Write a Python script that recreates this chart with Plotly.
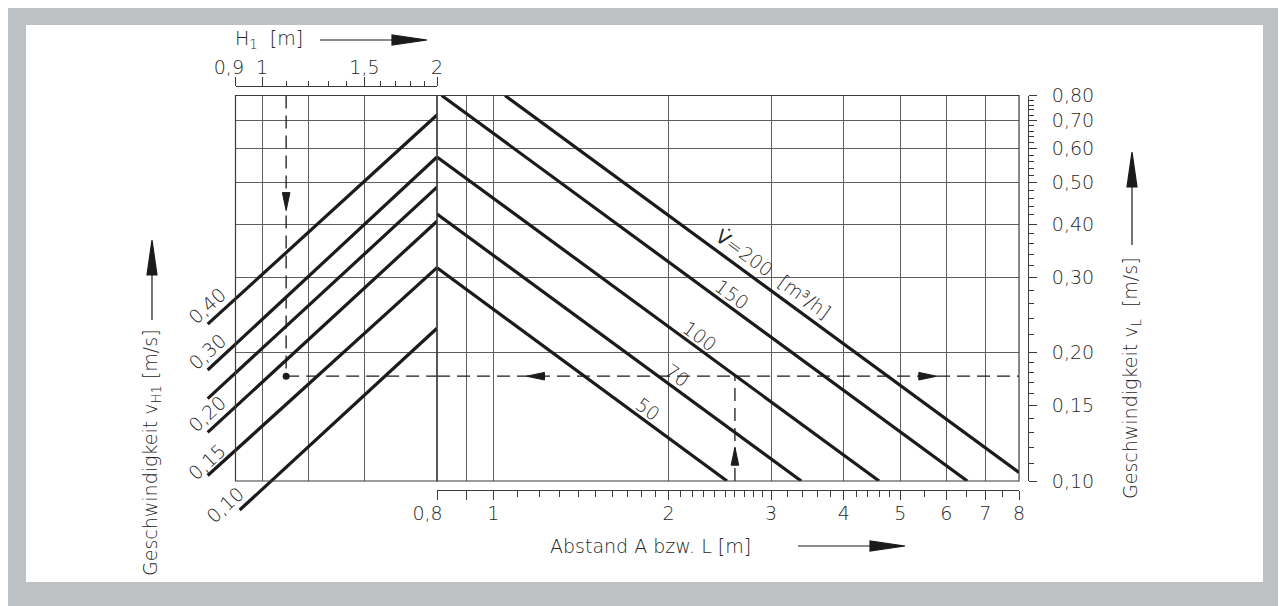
import math
import plotly.graph_objects as go

# ------------------------------------------------------------------ data
# top scale: height H1 [m]
h1_tick_values = [0.9, 1.0, 1.5, 2.0]
h1_tick_labels = ["0,9\u2002\u2009", "1", "1,5", "2"]
h1_minor_ticks = [1.1, 1.2, 1.3, 1.4, 1.6, 1.7, 1.8, 1.9]
h1_grid_values = [1.0, 1.2, 1.5]

# bottom scale: distance A / L [m]
a_tick_values = [0.8, 0.9, 1, 2, 3, 4, 5, 6, 7, 8]
a_tick_labels = ["0,8\u2003", " ", "1", "2", "3", "4", "5", "6", "7", "8"]
a_minor_ticks = [1.1, 1.2, 1.3, 1.4, 1.5, 1.6, 1.7, 1.8, 1.9,
                 2.1, 2.2, 2.3, 2.4, 2.5, 2.6, 2.7, 2.8, 2.9,
                 3.2, 3.4, 3.6, 3.8, 4.2, 4.4, 4.6, 4.8, 5.5, 6.5, 7.5]
a_grid_values = [0.9, 1, 2, 3, 4, 5, 6, 7]

# right scale: velocity v_L [m/s]
v_tick_values = [0.10, 0.15, 0.20, 0.30, 0.40, 0.50, 0.60, 0.70, 0.80]
v_tick_labels = ["0,10", "0,15", "0,20", "0,30", "0,40", "0,50", "0,60", "0,70", "0,80"]
v_minor_ticks = [0.11, 0.12, 0.13, 0.14, 0.16, 0.17, 0.18, 0.19,
                 0.22, 0.24, 0.26, 0.28, 0.32, 0.34, 0.36, 0.38,
                 0.42, 0.44, 0.46, 0.48, 0.52, 0.54, 0.56, 0.58,
                 0.62, 0.64, 0.66, 0.68, 0.72, 0.74, 0.76, 0.78]
v_grid_values = [0.2, 0.3, 0.4, 0.5, 0.6, 0.7]

# rising lines: velocity v_H1 family (over H1)
vh1_labels = ["0,40", "0,30", "", "0,20", "0,15", "0,10"]
vh1_h1_from = [0.806, 0.806, 0.806, 0.806, 0.806, 0.915]
vh1_h1_to = [2.0, 2.0, 2.0, 2.0, 2.0, 2.0]
vh1_v_from = [0.233, 0.182, 0.156, 0.130, 0.103, 0.0855]
vh1_v_to = [0.720, 0.574, 0.488, 0.406, 0.316, 0.228]

# falling lines: volume flow family (over A)
flow_labels = ["<span style=\"font-weight:400\">V\u0307</span>=200\u00a0\u00a0[m\u00b3/h]",
               "150", "100", "70", "50"]
flow_a_from = [1.047, 0.815, 0.80, 0.80, 0.80]
flow_a_to = [8.0, 6.52, 4.60, 3.38, 2.52]
flow_v_from = [0.80, 0.80, 0.574, 0.422, 0.316]
flow_v_to = [0.1047, 0.10, 0.10, 0.10, 0.10]

# worked example (dashed path)
example_h1 = 1.1
example_v = 0.176
example_a = 2.6

# ------------------------------------------------------------------ placement / style
W, H = 1286, 606
OFF = 8  # page offset of the figure inside the window
FONT = "DejaVu Sans"
FS = 19
FW = 200
TXT = "#262626"
LINE = "#1b1b1b"
GRID = "#5e5e5e"
AX = "#3a3a3a"

FRAME_L, MID, FRAME_R = 235.5, 437.0, 1019.0
FRAME_T, FRAME_B = 95.5, 481.0
TOP_AXIS_Y, BOT_AXIS_Y, RIGHT_AXIS_X = 86.0, 490.0, 1028.0
EXT_L, EXT_B = 180.0, 540.0

# label anchor points (in axis units)
vh1_label_h1 = [0.803, 0.803, None, 0.803, 0.803, 0.863]
vh1_label_v = [0.257, 0.201, None, 0.1435, 0.1107, 0.0878]
flow_label_a = [3.03, 2.567, 2.264, 2.065, 1.843]
flow_label_v = [0.3055, 0.2743, 0.2192, 0.1771, 0.1476]


def fx(p):
    return (p - OFF) / W


def fy(p):
    return 1 - (p - OFF) / H


lg = math.log10
h1_range = [lg(0.9), lg(2.0)]
a_range = [lg(0.8), lg(8.0)]
v_range = [lg(0.1), lg(0.8)]
dec_x = (MID - FRAME_L) / (h1_range[1] - h1_range[0])
dec_y = (FRAME_B - FRAME_T) / (v_range[1] - v_range[0])
h1_ext_range = [h1_range[0] - (FRAME_L - EXT_L) / dec_x, h1_range[1]]
v_ext_range = [v_range[0] - (EXT_B - FRAME_B) / dec_y, v_range[1]]

font = dict(family=FONT, size=FS, color=TXT, weight=FW)

fig = go.Figure()

# rising family
for i in range(len(vh1_labels)):
    fig.add_trace(go.Scatter(
        x=[vh1_h1_from[i], vh1_h1_to[i]], y=[vh1_v_from[i], vh1_v_to[i]],
        xaxis="x3", yaxis="y2", mode="lines",
        line=dict(color=LINE, width=3.2), hoverinfo="skip", showlegend=False))

# falling family
for i in range(len(flow_labels)):
    fig.add_trace(go.Scatter(
        x=[flow_a_from[i], flow_a_to[i]], y=[flow_v_from[i], flow_v_to[i]],
        xaxis="x", yaxis="y", mode="lines",
        line=dict(color=LINE, width=3.2), hoverinfo="skip", showlegend=False))

dash = dict(color=LINE, width=1.3, dash="13px,7px")
# example: down from H1, across to the right, up from A
fig.add_trace(go.Scatter(x=[example_h1, example_h1], y=[0.8, example_v], xaxis="x2", yaxis="y",
                         mode="lines", line=dash, hoverinfo="skip", showlegend=False))
fig.add_trace(go.Scatter(x=[example_h1, 2.0], y=[example_v, example_v], xaxis="x2", yaxis="y",
                         mode="lines", line=dash, hoverinfo="skip", showlegend=False))
fig.add_trace(go.Scatter(x=[0.8, 8.0], y=[example_v, example_v], xaxis="x", yaxis="y",
                         mode="lines", line=dash, hoverinfo="skip", showlegend=False))
fig.add_trace(go.Scatter(x=[example_a, example_a], y=[0.1, example_v], xaxis="x", yaxis="y",
                         mode="lines", line=dash, hoverinfo="skip", showlegend=False))
fig.add_trace(go.Scatter(x=[example_h1], y=[example_v], xaxis="x2", yaxis="y", mode="markers",
                         marker=dict(color=LINE, size=7), hoverinfo="skip", showlegend=False,
                         cliponaxis=False))

# invisible carriers so the three scale axes get drawn
for xa_, ya_, xv, yv in [("x4", "y", 1.5, 0.3), ("x5", "y", 2.0, 0.3), ("x", "y3", 2.0, 0.3)]:
    fig.add_trace(go.Scatter(x=[xv], y=[yv], xaxis=xa_, yaxis=ya_, mode="markers",
                             marker=dict(opacity=0, size=1), hoverinfo="skip", showlegend=False))

annotations = []
for i, t in enumerate(vh1_labels):
    if not t:
        continue
    annotations.append(dict(text=t, xref="x3", yref="y2",
                            x=lg(vh1_label_h1[i]), y=lg(vh1_label_v[i]),
                            showarrow=False, textangle=-42.5, xanchor="center", yanchor="middle",
                            font=font))
for i, t in enumerate(flow_labels):
    annotations.append(dict(text=t, xref="x", yref="y",
                            x=lg(flow_label_a[i]), y=lg(flow_label_v[i]),
                            showarrow=False, textangle=36.2, xanchor="center", yanchor="middle",
                            font=font))

# axis titles
annotations += [
    dict(text="H<sub>1</sub>\u00a0\u00a0[m]", xref="paper", yref="paper", x=fx(233), y=fy(40),
         xanchor="left", yanchor="middle", showarrow=False, font=font),
    dict(text="Abstand A bzw. L [m]", xref="paper", yref="paper", x=fx(548), y=fy(546),
         xanchor="left", yanchor="middle", showarrow=False, font=font),
    dict(text="Geschwindigkeit v<sub>H1</sub> [m/s]", xref="paper", yref="paper",
         x=fx(152), y=fy(453), textangle=-90, xanchor="center", yanchor="middle", showarrow=False,
         font=font),
    dict(text="Geschwindigkeit v<sub>L</sub>\u00a0\u00a0[m/s]", xref="paper", yref="paper",
         x=fx(1132), y=fy(378), textangle=-90, xanchor="center", yanchor="middle", showarrow=False,
         font=font),
]


def head(direction, length, half, shaft=0):
    if direction == "right":
        s = f"M{-shaft},0 L0,0 " if shaft else ""
        return s + f"M0,0 L{-length},{-half} L{-length},{half} Z"
    if direction == "left":
        s = f"M{shaft},0 L0,0 " if shaft else ""
        return s + f"M0,0 L{length},{-half} L{length},{half} Z"
    if direction == "up":
        s = f"M0,{-shaft} L0,0 " if shaft else ""
        return s + f"M0,0 L{-half},{-length} L{half},{-length} Z"
    s = f"M0,{shaft} L0,0 " if shaft else ""
    return s + f"M0,0 L{-half},{length} L{half},{length} Z"


shapes = [
    # white sheet
    dict(type="rect", xref="paper", yref="paper", x0=fx(26), x1=fx(1263), y0=fy(582), y1=fy(25),
         fillcolor="white", line=dict(width=0), layer="below"),
    # frame of both panels
    dict(type="rect", xref="x2 domain", yref="y domain", x0=0, x1=1, y0=0, y1=1,
         line=dict(color=AX, width=1.2)),
    dict(type="rect", xref="x domain", yref="y domain", x0=0, x1=1, y0=0, y1=1,
         line=dict(color=AX, width=1.2)),
]

# title arrows (paper, pixel sized)
title_arrows = [("right", 427, 40), ("right", 905, 546), ("up", 152, 240), ("up", 1132, 152)]
title_shafts = [107, 107, 80, 93]
for (d, ax_, ay_), sh in zip(title_arrows, title_shafts):
    shapes.append(dict(type="path", xref="paper", yref="paper", xsizemode="pixel", ysizemode="pixel",
                       xanchor=fx(ax_), yanchor=fy(ay_), path=head(d, 35, 5, sh),
                       fillcolor=LINE, line=dict(color=LINE, width=1.2)))

# arrowheads on the example path (axis anchored)
example_arrows = [("down", "x2", example_h1, 0.43), ("left", "x", 1.14, example_v),
                  ("right", "x", 5.78, example_v), ("up", "x", example_a, 0.12)]
for d, xr, xa_, ya_ in example_arrows:
    shapes.append(dict(type="path", xref=xr, yref="y", xsizemode="pixel", ysizemode="pixel",
                       xanchor=xa_, yanchor=ya_, path=head(d, 18, 3.8),
                       fillcolor=LINE, line=dict(color=LINE, width=1)))

hidden_grid_axis = dict(type="log", showticklabels=False, ticks="", showline=False, zeroline=False,
                        showgrid=True, gridcolor=GRID, gridwidth=1, tickmode="array",
                        automargin=False)
scale_axis = dict(type="log", tickmode="array", ticks="outside", tickwidth=1, tickcolor=AX,
                  showline=True, linecolor=AX, linewidth=1, showgrid=False, zeroline=False,
                  tickfont=font, tickangle=0, automargin=False, anchor="free")

fig.update_layout(
    template="none",
    width=W, height=H, autosize=False,
    margin=dict(l=0, r=0, t=0, b=0, pad=0),
    paper_bgcolor="#bec1c4",
    plot_bgcolor="rgba(0,0,0,0)",
    showlegend=False,
    font=font,
    xaxis=dict(hidden_grid_axis, range=a_range, domain=[fx(MID), fx(FRAME_R)], anchor="y",
               tickvals=a_grid_values),
    xaxis2=dict(hidden_grid_axis, range=h1_range, domain=[fx(FRAME_L), fx(MID)], anchor="y",
                tickvals=h1_grid_values),
    xaxis3=dict(type="log", range=h1_ext_range, domain=[fx(EXT_L), fx(MID)], anchor="y2",
                visible=False, automargin=False),
    xaxis4=dict(scale_axis, range=h1_range, overlaying="x2", position=fy(TOP_AXIS_Y),
                side="top", tickvals=h1_tick_values, ticktext=h1_tick_labels,
                ticklen=9, ticklabelstandoff=-5,
                minor=dict(tickmode="array", tickvals=h1_minor_ticks, ticks="outside", ticklen=5,
                           tickwidth=1, tickcolor=AX, showgrid=False)),
    xaxis5=dict(scale_axis, range=a_range, overlaying="x", position=fy(BOT_AXIS_Y),
                side="bottom", tickvals=a_tick_values, ticktext=a_tick_labels,
                ticklen=9, ticklabelstandoff=-3,
                minor=dict(tickmode="array", tickvals=a_minor_ticks, ticks="outside", ticklen=6,
                           tickwidth=1, tickcolor=AX, showgrid=False)),
    yaxis=dict(hidden_grid_axis, range=v_range, domain=[fy(FRAME_B), fy(FRAME_T)], anchor="x2",
               tickvals=v_grid_values),
    yaxis2=dict(type="log", range=v_ext_range, domain=[fy(EXT_B), fy(FRAME_T)], anchor="x3",
                visible=False, automargin=False),
    yaxis3=dict(scale_axis, range=v_range, overlaying="y", position=fx(RIGHT_AXIS_X),
                side="right", tickvals=v_tick_values, ticktext=v_tick_labels,
                ticklen=8, ticklabelstandoff=11,
                minor=dict(tickmode="array", tickvals=v_minor_ticks, ticks="outside", ticklen=5,
                           tickwidth=1, tickcolor=AX, showgrid=False)),
    annotations=annotations,
    shapes=shapes,
)

fig.write_html("out.html")
